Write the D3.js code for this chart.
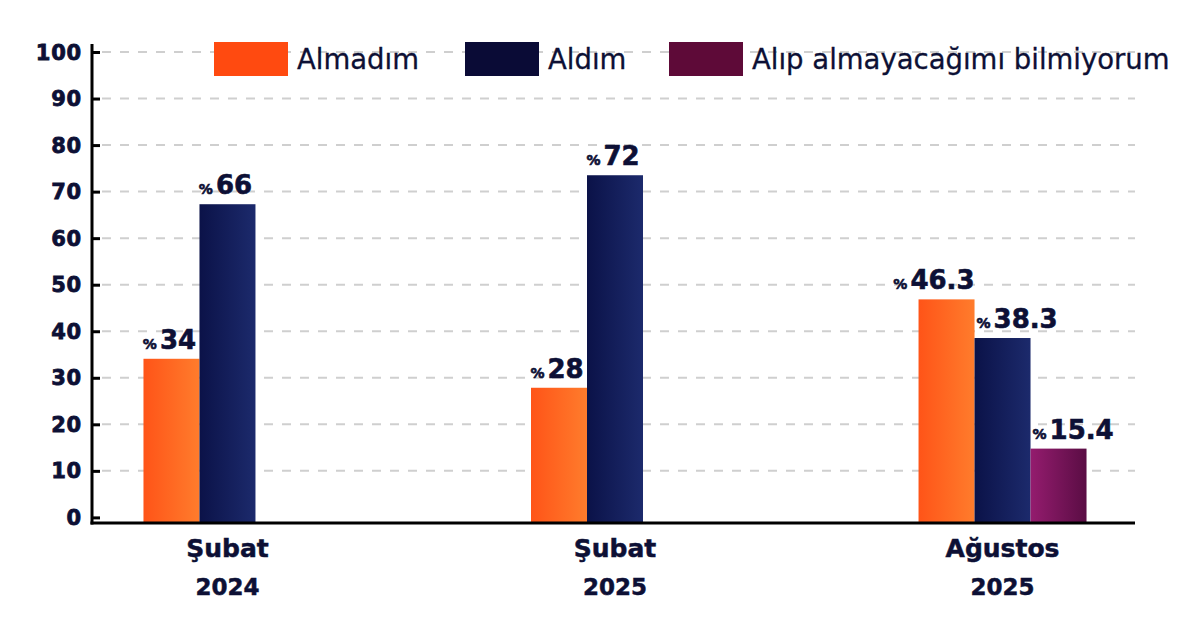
<!DOCTYPE html>
<html><head><meta charset="utf-8">
<script src="https://cdn.jsdelivr.net/npm/d3@7"></script>
<style>html,body{margin:0;padding:0;background:#fff;}svg{display:block;}</style>
</head><body>
<svg id="chart" width="1200" height="619"></svg>
<script>
const categories = [["Şubat","2024"],["Şubat","2025"],["Ağustos","2025"]];
const seriesNames = ["Almadım","Aldım","Alıp almayacağımı bilmiyorum"];
const almadim = [34, 28, 46.3];
const aldim = [66, 72, 38.3];
const bilmiyorum = [null, null, 15.4];
const yTicks = [0,10,20,30,40,50,60,70,80,90,100];

const seriesValues = [almadim, aldim, bilmiyorum];
const colors = {
  "Almadım": ["#ff5418", "#ff7c2c", "#ff4a10"],
  "Aldım": ["#0b1248", "#1c2a6c", "#0a0b36"],
  "Alıp almayacağımı bilmiyorum": ["#941c6e", "#5a0d44", "#5e0a38"]
};
const ink = "#0d1035";
const numFont = "'DejaVu Sans', sans-serif";

const svg = d3.select("#chart");
const defs = svg.append("defs");
seriesNames.forEach((s,i)=>{
  const g = defs.append("linearGradient").attr("id","grad"+i).attr("x1","0").attr("x2","1").attr("y1","0").attr("y2","0");
  g.append("stop").attr("offset","0%").attr("stop-color",colors[s][0]);
  g.append("stop").attr("offset","100%").attr("stop-color",colors[s][1]);
});

const keys = categories.map(c=>c.join(" "));
const x0 = d3.scaleBand().domain(keys).range([40,1190]).paddingInner(0.5665).paddingOuter(0.267);
const x1 = d3.scaleBand().domain(seriesNames).range([0, x0.bandwidth()]).padding(0);
// axis scale (tick labels / gridlines) and bar scale as drawn in the reference
const yAxis = d3.scaleLinear().domain([0,100]).range([517.4, 52]);
const yBar = d3.scaleLinear().domain([0,100]).range([523, 40]);

const axisX = 92, plotRight = 1135, baseY = 523;

// gridlines
svg.append("g").selectAll("line").data(yTicks.filter(t=>t>0)).join("line")
  .attr("x1", axisX+10).attr("x2", plotRight)
  .attr("y1", d=>yAxis(d)).attr("y2", d=>yAxis(d))
  .attr("stroke","#cfcfcf").attr("stroke-width",2).attr("stroke-dasharray","9,9");

// y axis ticks
const ya = svg.append("g").attr("transform",`translate(${axisX},0)`)
  .call(d3.axisRight(yAxis).tickValues(yTicks).tickSize(8).tickFormat(""));
ya.select(".domain").remove();
ya.selectAll(".tick line").attr("stroke","#000").attr("stroke-width",3);
svg.append("g").selectAll("text").data(yTicks).join("text")
  .attr("x", axisX-10).attr("y", d=>yAxis(d)).attr("dy","0.36em")
  .attr("text-anchor","end").attr("fill",ink)
  .attr("stroke",ink).attr("stroke-width",0.8)
  .style("font-family",numFont).style("font-weight","bold").style("font-size","21px")
  .style("letter-spacing","0.8px")
  .text(d=>d);

// bars
const rows = [];
keys.forEach((k,ci)=>{
  seriesNames.forEach((s,si)=>{
    const v = seriesValues[si][ci];
    if (v!=null) rows.push({k, ci, s, si, v});
  });
});
const countIn = ci => rows.filter(r=>r.ci===ci).length;

svg.append("g").selectAll("rect").data(rows).join("rect")
  .attr("x", d=>x0(d.k)+x1(d.s)).attr("width", x1.bandwidth())
  .attr("y", d=>yBar(d.v)).attr("height", d=>yBar(0)-yBar(d.v))
  .attr("fill", d=>`url(#grad${d.si})`);

// value labels
const lab = svg.append("g").selectAll("text").data(rows).join("text")
  .attr("y", d=>yBar(d.v)-10)
  .attr("fill", ink).attr("stroke",ink).attr("stroke-width",0.6)
  .style("font-family",numFont).style("font-weight","bold");
lab.each(function(d){
  const t = d3.select(this);
  const bx = x0(d.k)+x1(d.s), bw = x1.bandwidth();
  if (countIn(d.ci) > 2) {
    if (d.si===0) t.attr("x", bx+bw).attr("text-anchor","end");
    else t.attr("x", bx+2).attr("text-anchor","start");
  } else {
    t.attr("x", bx+bw/2-2).attr("text-anchor","middle");
  }
  t.append("tspan").style("font-size","14px").text("%");
  t.append("tspan").attr("dx","3").style("font-size","26px").text(d.v);
});

// axes lines
svg.append("line").attr("x1",axisX).attr("x2",axisX).attr("y1",44).attr("y2",baseY+1.5)
  .attr("stroke","#000").attr("stroke-width",3);
svg.append("line").attr("x1",axisX-1.5).attr("x2",plotRight).attr("y1",baseY).attr("y2",baseY)
  .attr("stroke","#000").attr("stroke-width",3);

// category labels
const cat = svg.append("g").selectAll("text").data(categories).join("text")
  .attr("x",(d,i)=>x0(keys[i])+x0.bandwidth()/2)
  .attr("text-anchor","middle").attr("fill",ink).attr("stroke",ink).attr("stroke-width",0.5)
  .style("font-family",numFont).style("font-weight","bold");
cat.append("tspan").attr("y",557).style("font-size","25px").text(d=>d[0]);
cat.append("tspan").attr("x",(d,i)=>x0(keys[i])+x0.bandwidth()/2).attr("y",595).style("font-size","23px").text(d=>d[1]);

// legend
const legendX = [214, 465, 669];
const lg = svg.append("g").selectAll("g").data(seriesNames).join("g")
  .attr("transform",(d,i)=>`translate(${legendX[i]},42)`);
lg.append("rect").attr("width",74).attr("height",34).attr("fill",d=>colors[d][2]);
lg.append("text").attr("x",83).attr("y",17).attr("dy","0.36em").attr("fill",ink)
  .attr("stroke",ink).attr("stroke-width",0.3)
  .style("font-family","'DejaVu Sans', sans-serif").style("font-size","27.5px")
  .text(d=>d);
</script>
</body></html>
